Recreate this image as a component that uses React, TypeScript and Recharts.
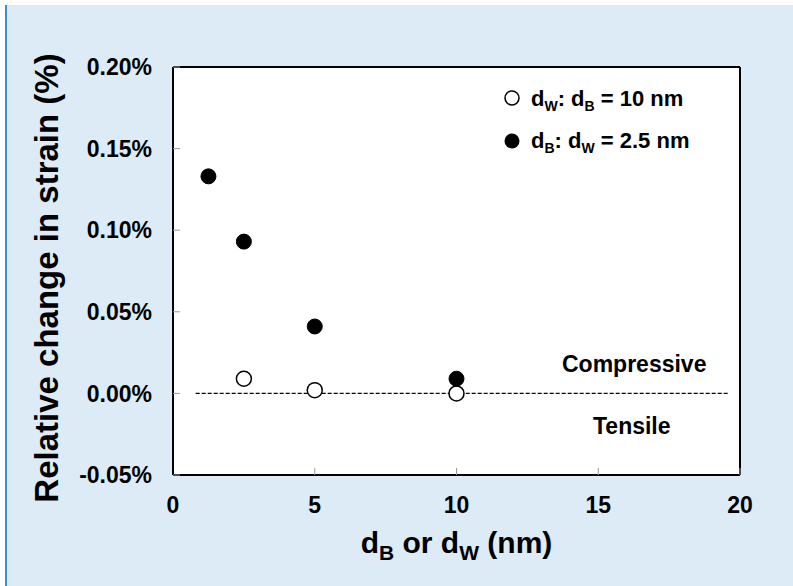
import {
  ScatterChart,
  Scatter,
  XAxis,
  YAxis,
  CartesianGrid,
  ReferenceLine,
} from "recharts";

// open circles: d_W series, d_B = 10 nm
const openX = [2.5, 5, 10];
const openY = [0.009, 0.002, 0.0];
// filled circles: d_B series, d_W = 2.5 nm
const filledX = [1.25, 2.5, 5, 10];
const filledY = [0.133, 0.093, 0.041, 0.009];

const xTicks = [0, 5, 10, 15, 20];
const yTicks = [-0.05, 0, 0.05, 0.1, 0.15, 0.2];
const dashedX = [0.8, 19.6];

const openData = openX.map((x, i) => ({ x, y: openY[i] }));
const filledData = filledX.map((x, i) => ({ x, y: filledY[i] }));

const FONT = "'Liberation Sans', Arial, sans-serif";

const OpenDot = (p: any) => (
  <circle cx={p.cx} cy={p.cy} r={7.5} fill="#fff" stroke="#000" strokeWidth={1.5} />
);
const FilledDot = (p: any) => (
  <circle cx={p.cx} cy={p.cy} r={7.5} fill="#000" stroke="#000" strokeWidth={1} />
);

const YTitle = () => (
  <text
    x={46}
    y={278}
    transform="rotate(-90 46 278)"
    textAnchor="middle"
    dominantBaseline="central"
    fontFamily={FONT}
    fontWeight="bold"
    fontSize={33}
    fill="#000"
  >
    Relative change in strain (%)
  </text>
);

const XTitle = (props: any) => {
  const vb = props.viewBox;
  return (
    <text
      x={vb.x + vb.width / 2}
      y={553}
      textAnchor="middle"
      fontFamily={FONT}
      fontWeight="bold"
      fontSize={30}
      fill="#000"
    >
      d<tspan fontSize={21} dy={7}>B</tspan>
      <tspan dy={-7}> or d</tspan>
      <tspan fontSize={21} dy={7}>W</tspan>
      <tspan dy={-7}> (nm)</tspan>
    </text>
  );
};

const textStyle: React.CSSProperties = {
  position: "absolute",
  fontFamily: FONT,
  fontWeight: "bold",
  color: "#000",
  whiteSpace: "nowrap",
  lineHeight: 1,
};

export default function App() {
  return (
    <div
      style={{
        position: "absolute",
        left: 0,
        top: 0,
        width: 793,
        height: 586,
        background: "#fff",
        overflow: "hidden",
      }}
    >
      <div
        style={{
          position: "absolute",
          left: 5,
          top: 5,
          width: 788,
          height: 581,
          background: "#dcebf6",
          borderLeft: "2px solid #3a8fd4",
          boxSizing: "border-box",
        }}
      />
      <div style={{ position: "absolute", left: 0, top: 0 }}>
        <ScatterChart
          width={793}
          height={586}
          margin={{ top: 67, right: 53, bottom: 0, left: 0 }}
        >
          <CartesianGrid horizontal={false} vertical={false} fill="#fff" />
          <XAxis
            type="number"
            dataKey="x"
            domain={[0, 20]}
            ticks={xTicks}
            height={111}
            axisLine={{ stroke: "#000", strokeWidth: 2 }}
            tickLine={{ stroke: "#999" }}
            tickSize={-7}
            tickMargin={29}
            tick={{ fill: "#000", fontSize: 23, fontWeight: "bold", fontFamily: FONT }}
            label={{ content: XTitle }}
          />
          <YAxis
            type="number"
            dataKey="y"
            domain={[-0.05, 0.2]}
            ticks={yTicks}
            width={173}
            axisLine={{ stroke: "#000", strokeWidth: 2 }}
            tickLine={{ stroke: "#999" }}
            tickSize={-7}
            tickMargin={28}
            tickFormatter={(v: number) => `${v.toFixed(2)}%`}
            tick={{ fill: "#000", fontSize: 23, fontWeight: "bold", fontFamily: FONT }}
            label={{ content: YTitle }}
          />
          <ReferenceLine y={0.2} stroke="#000" strokeWidth={2} />
          <ReferenceLine x={20} stroke="#000" strokeWidth={2} />
          <ReferenceLine
            segment={[
              { x: dashedX[0], y: 0 },
              { x: dashedX[1], y: 0 },
            ]}
            stroke="#000"
            strokeWidth={1.2}
            strokeDasharray="4 2"
          />
          <Scatter data={openData} shape={OpenDot} isAnimationActive={false} />
          <Scatter data={filledData} shape={FilledDot} isAnimationActive={false} />
        </ScatterChart>
      </div>

      {/* legend */}
      <svg
        style={{ position: "absolute", left: 500, top: 85 }}
        width={30}
        height={70}
      >
        <circle cx={12} cy={13} r={7} fill="#fff" stroke="#000" strokeWidth={1.5} />
        <circle cx={12} cy={56} r={7.5} fill="#000" />
      </svg>
      <div style={{ ...textStyle, left: 531, top: 88, fontSize: 22 }}>
        d<sub style={{ fontSize: 14, verticalAlign: -5 }}>W</sub>: d
        <sub style={{ fontSize: 14, verticalAlign: -5 }}>B</sub> = 10 nm
      </div>
      <div style={{ ...textStyle, left: 531, top: 130, fontSize: 22 }}>
        d<sub style={{ fontSize: 14, verticalAlign: -5 }}>B</sub>: d
        <sub style={{ fontSize: 14, verticalAlign: -5 }}>W</sub> = 2.5 nm
      </div>

      <div style={{ ...textStyle, left: 562, top: 353, fontSize: 23 }}>Compressive</div>
      <div style={{ ...textStyle, left: 593, top: 415, fontSize: 23 }}>Tensile</div>
    </div>
  );
}
